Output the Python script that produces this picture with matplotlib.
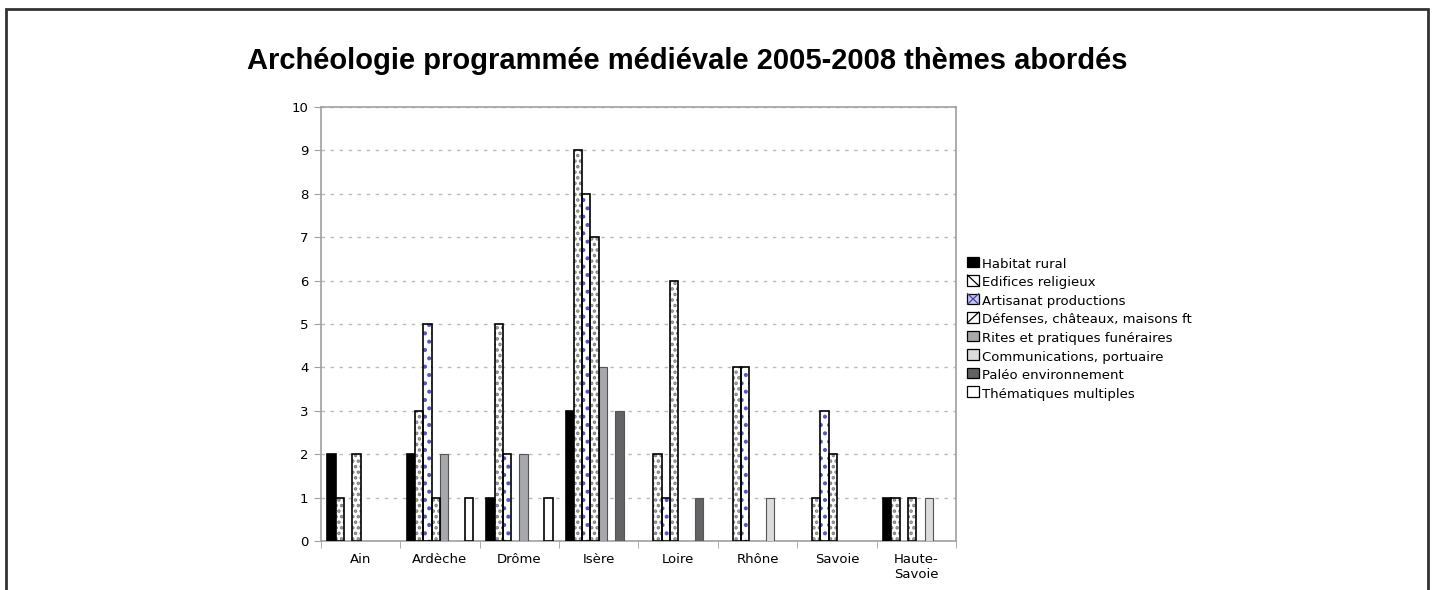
import matplotlib.pyplot as plt
import matplotlib as mpl
from matplotlib.patches import Patch, Rectangle
from matplotlib.lines import Line2D
import numpy as np

departements = ['Ain', 'Ardèche', 'Drôme', 'Isère', 'Loire', 'Rhône', 'Savoie', 'Haute-\nSavoie']

themes = ['Habitat rural', 'Edifices religieux', 'Artisanat productions',
          'Défenses, châteaux, maisons ft', 'Rites et pratiques funéraires',
          'Communications, portuaire', 'Paléo environnement', 'Thématiques multiples']

habitat = [2, 2, 1, 3, 0, 0, 0, 1]
edifices = [1, 3, 5, 9, 2, 4, 1, 1]
artisanat = [0, 5, 2, 8, 1, 4, 3, 0]
defenses = [2, 1, 0, 7, 6, 0, 2, 1]
rites = [0, 2, 2, 4, 0, 0, 0, 0]
communications = [0, 0, 0, 0, 0, 1, 0, 1]
paleo = [0, 0, 0, 3, 1, 0, 0, 0]
multiples = [0, 1, 1, 0, 0, 0, 0, 0]

series = [habitat, edifices, artisanat, defenses, rites, communications, paleo, multiples]

# face, hatch, hatch colour, legend diagonal(s)
styles = [
    {'face': '#000000', 'hatch': None, 'hc': None, 'lh': None},
    {'face': 'white', 'hatch': '...', 'hc': '#808080', 'lh': '\\'},
    {'face': 'white', 'hatch': '..', 'hc': '#5555cc', 'lh': 'x'},
    {'face': 'white', 'hatch': '...', 'hc': '#808080', 'lh': '/'},
    {'face': '#a6a8ab', 'hatch': None, 'hc': None, 'lh': None},
    {'face': '#dcdcdc', 'hatch': None, 'hc': None, 'lh': None},
    {'face': '#636366', 'hatch': None, 'hc': None, 'lh': None},
    {'face': 'white', 'hatch': None, 'hc': None, 'lh': None},
]


class SquareHandler:
    def __init__(self, lh, face):
        self.lh = lh
        self.face = face

    def legend_artist(self, legend, orig_handle, fontsize, handlebox):
        x0, y0 = handlebox.xdescent, handlebox.ydescent
        w, h = handlebox.width, handlebox.height
        tr = handlebox.get_transform()
        face = '#c8c8ee' if self.lh == 'x' else self.face
        r = Rectangle((x0, y0), w, h, facecolor=face, edgecolor='black', lw=0.9, transform=tr)
        handlebox.add_artist(r)
        col = '#4444aa' if self.lh == 'x' else 'black'
        if self.lh in ('\\', 'x'):
            handlebox.add_artist(Line2D([x0, x0 + w], [y0 + h, y0], color=col, lw=0.9, transform=tr))
        if self.lh in ('/', 'x'):
            handlebox.add_artist(Line2D([x0, x0 + w], [y0, y0 + h], color=col, lw=0.9, transform=tr))
        return r


mpl.rcParams['font.family'] = 'DejaVu Sans'
mpl.rcParams['hatch.linewidth'] = 1.7

fig = plt.figure(figsize=(14.34, 5.9), dpi=100)
ax = fig.add_axes([0.2238, 0.0831, 0.4429, 0.7355])

# outer frame
fig.patches.append(Rectangle((0.0045, -0.1), 0.9910, 1.085, transform=fig.transFigure,
                             fill=False, edgecolor='#333333', linewidth=2))

x = np.arange(len(departements))
w = 0.1045
for i, vals in enumerate(series):
    st = styles[i]
    vals = np.array(vals)
    pos = (x - 4 * w + (i + 0.5) * w)[vals > 0]
    h = vals[vals > 0]
    if st['hatch']:
        ax.bar(pos, h, width=w, color=st['face'], hatch=st['hatch'],
               edgecolor=st['hc'], linewidth=0, zorder=3)
        ax.bar(pos, h, width=w, fill=False, edgecolor='black', linewidth=1.2, zorder=4)
    else:
        dark = st['face'] in ('white', '#000000')
        ax.bar(pos, h, width=w, color=st['face'],
               edgecolor='black' if dark else '#555555',
               linewidth=1.2 if dark else 0.8, zorder=3)

ax.set_xlim(-0.5, len(departements) - 0.5)
ax.set_ylim(0, 10)
ax.set_yticks(range(0, 11))
ax.set_xticks(x)
ax.set_xticklabels(departements, fontsize=9.5)
ax.set_xticks(np.arange(-0.5, len(departements)), minor=True)
ax.tick_params(axis='x', which='major', length=0, pad=9)
ax.tick_params(axis='x', which='minor', length=5, color='#a0a0a0')
ax.tick_params(axis='y', length=5, color='#a0a0a0', labelsize=9.5, pad=4)
ax.yaxis.grid(True, linestyle=(0, (2.5, 4)), color='#bbbbbb', linewidth=1, zorder=0)
ax.set_axisbelow(True)
for s in ax.spines.values():
    s.set_color('#a0a0a0')
    s.set_linewidth(1.2)

handles = []
handler_map = {}
for i, name in enumerate(themes):
    st = styles[i]
    p = Patch(facecolor=st['face'], edgecolor='black', label=name)
    handles.append(p)
    handler_map[p] = SquareHandler(st['lh'], st['face'])
fig.legend(handles=handles, handler_map=handler_map, loc='upper left',
           bbox_to_anchor=(0.671, 0.572), frameon=False, fontsize=9.5,
           handlelength=0.85, handleheight=0.85, handletextpad=0.25,
           labelspacing=0.42, borderaxespad=0)

fig.suptitle('Archéologie programmée médiévale 2005-2008 thèmes abordés',
             x=0.479, y=0.92, fontsize=21, fontweight='bold', family='Liberation Sans')

fig.savefig('out.png', dpi=100)
